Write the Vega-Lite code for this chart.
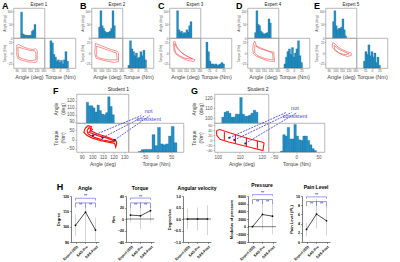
{
"$schema": "https://vega.github.io/schema/vega-lite/v6.json",
"background": "white",
"padding": {"left": 2, "right": 2, "top": 1, "bottom": 0},
"config": {
 "font": "Liberation Sans",
 "view": {"stroke": "#a6a6a6", "strokeWidth": 0.8},
 "axis": {"labelFontSize": 3, "titleFontSize": 3.2, "tickSize": 1, "tickWidth": 0.4, "tickColor": "#777", "labelPadding": 0.5, "titlePadding": 1, "grid": false, "domain": false, "labelColor": "#555", "titleColor": "#444", "titleFontWeight": "normal", "labelFlush": false, "labelOverlap": false, "labelBound": false},
 "title": {"fontSize": 5, "fontWeight": "normal", "color": "#222", "offset": 1}
},
"datasets": {
 "eh": [
  {"p":"E1","v":"a","x":92,"c":95},{"p":"E1","v":"a","x":95,"c":15},{"p":"E1","v":"a","x":98,"c":12},{"p":"E1","v":"a","x":101,"c":10},{"p":"E1","v":"a","x":104,"c":10},{"p":"E1","v":"a","x":107,"c":9},{"p":"E1","v":"a","x":110,"c":10},{"p":"E1","v":"a","x":113,"c":10},{"p":"E1","v":"a","x":116,"c":25},{"p":"E1","v":"a","x":119,"c":30},{"p":"E1","v":"a","x":122,"c":50},
  {"p":"E1","v":"t","x":-30,"c":100},{"p":"E1","v":"t","x":-25,"c":92},{"p":"E1","v":"t","x":-20,"c":50},{"p":"E1","v":"t","x":-15,"c":40},{"p":"E1","v":"t","x":-10,"c":25},{"p":"E1","v":"t","x":-5,"c":30},{"p":"E1","v":"t","x":0,"c":20},{"p":"E1","v":"t","x":5,"c":28},{"p":"E1","v":"t","x":10,"c":15},{"p":"E1","v":"t","x":15,"c":30},{"p":"E1","v":"t","x":20,"c":60},{"p":"E1","v":"t","x":25,"c":25},
  {"p":"E2","v":"a","x":92,"c":40},{"p":"E2","v":"a","x":95,"c":100},{"p":"E2","v":"a","x":98,"c":45},{"p":"E2","v":"a","x":101,"c":35},{"p":"E2","v":"a","x":104,"c":25},{"p":"E2","v":"a","x":107,"c":20},{"p":"E2","v":"a","x":110,"c":20},{"p":"E2","v":"a","x":113,"c":22},{"p":"E2","v":"a","x":116,"c":25},{"p":"E2","v":"a","x":119,"c":35},{"p":"E2","v":"a","x":122,"c":100},{"p":"E2","v":"a","x":125,"c":45},
  {"p":"E2","v":"t","x":-30,"c":10},{"p":"E2","v":"t","x":-25,"c":100},{"p":"E2","v":"t","x":-20,"c":70},{"p":"E2","v":"t","x":-15,"c":60},{"p":"E2","v":"t","x":-10,"c":45},{"p":"E2","v":"t","x":-5,"c":55},{"p":"E2","v":"t","x":0,"c":35},{"p":"E2","v":"t","x":5,"c":40},{"p":"E2","v":"t","x":10,"c":60},{"p":"E2","v":"t","x":15,"c":45},{"p":"E2","v":"t","x":20,"c":65},{"p":"E2","v":"t","x":25,"c":30},
  {"p":"E3","v":"a","x":92,"c":100},{"p":"E3","v":"a","x":95,"c":30},{"p":"E3","v":"a","x":98,"c":20},{"p":"E3","v":"a","x":101,"c":25},{"p":"E3","v":"a","x":104,"c":15},{"p":"E3","v":"a","x":107,"c":20},{"p":"E3","v":"a","x":110,"c":18},{"p":"E3","v":"a","x":113,"c":30},{"p":"E3","v":"a","x":116,"c":22},{"p":"E3","v":"a","x":119,"c":45},{"p":"E3","v":"a","x":122,"c":60},
  {"p":"E3","v":"t","x":-30,"c":95},{"p":"E3","v":"t","x":-25,"c":60},{"p":"E3","v":"t","x":-20,"c":25},{"p":"E3","v":"t","x":-15,"c":15},{"p":"E3","v":"t","x":-10,"c":15},{"p":"E3","v":"t","x":-5,"c":12},{"p":"E3","v":"t","x":0,"c":15},{"p":"E3","v":"t","x":5,"c":10},{"p":"E3","v":"t","x":10,"c":12},{"p":"E3","v":"t","x":15,"c":15},{"p":"E3","v":"t","x":20,"c":20},{"p":"E3","v":"t","x":25,"c":15},
  {"p":"E4","v":"a","x":92,"c":20},{"p":"E4","v":"a","x":95,"c":100},{"p":"E4","v":"a","x":98,"c":50},{"p":"E4","v":"a","x":101,"c":45},{"p":"E4","v":"a","x":104,"c":25},{"p":"E4","v":"a","x":107,"c":20},{"p":"E4","v":"a","x":110,"c":15},{"p":"E4","v":"a","x":113,"c":15},{"p":"E4","v":"a","x":116,"c":18},{"p":"E4","v":"a","x":119,"c":20},{"p":"E4","v":"a","x":122,"c":70},{"p":"E4","v":"a","x":125,"c":55},
  {"p":"E4","v":"t","x":-30,"c":15},{"p":"E4","v":"t","x":-25,"c":40},{"p":"E4","v":"t","x":-20,"c":60},{"p":"E4","v":"t","x":-15,"c":70},{"p":"E4","v":"t","x":-10,"c":50},{"p":"E4","v":"t","x":-5,"c":75},{"p":"E4","v":"t","x":0,"c":40},{"p":"E4","v":"t","x":5,"c":55},{"p":"E4","v":"t","x":10,"c":70},{"p":"E4","v":"t","x":15,"c":100},{"p":"E4","v":"t","x":20,"c":45},{"p":"E4","v":"t","x":25,"c":20},
  {"p":"E5","v":"a","x":92,"c":60},{"p":"E5","v":"a","x":95,"c":100},{"p":"E5","v":"a","x":98,"c":45},{"p":"E5","v":"a","x":101,"c":30},{"p":"E5","v":"a","x":104,"c":35},{"p":"E5","v":"a","x":107,"c":35},{"p":"E5","v":"a","x":110,"c":40},{"p":"E5","v":"a","x":113,"c":70},{"p":"E5","v":"a","x":116,"c":30},{"p":"E5","v":"a","x":119,"c":8},
  {"p":"E5","v":"t","x":-25,"c":25},{"p":"E5","v":"t","x":-20,"c":60},{"p":"E5","v":"t","x":-15,"c":50},{"p":"E5","v":"t","x":-10,"c":85},{"p":"E5","v":"t","x":-5,"c":45},{"p":"E5","v":"t","x":0,"c":60},{"p":"E5","v":"t","x":5,"c":40},{"p":"E5","v":"t","x":10,"c":55},{"p":"E5","v":"t","x":15,"c":20},{"p":"E5","v":"t","x":20,"c":40},{"p":"E5","v":"t","x":25,"c":10}
 ],
 "sh": [
  {"p":"S1","v":"a","x":92,"c":118},{"p":"S1","v":"a","x":94.5,"c":113},{"p":"S1","v":"a","x":97,"c":113},{"p":"S1","v":"a","x":99.5,"c":110},{"p":"S1","v":"a","x":102,"c":104},{"p":"S1","v":"a","x":104.5,"c":114},{"p":"S1","v":"a","x":107,"c":106},{"p":"S1","v":"a","x":109.5,"c":101},{"p":"S1","v":"a","x":112,"c":100},{"p":"S1","v":"a","x":114.5,"c":103},{"p":"S1","v":"a","x":117,"c":126},{"p":"S1","v":"a","x":119.5,"c":112},{"p":"S1","v":"a","x":122,"c":100},
  {"p":"S1","v":"t","x":-65,"c":2},{"p":"S1","v":"t","x":-55,"c":8},{"p":"S1","v":"t","x":-45,"c":9},{"p":"S1","v":"t","x":-35,"c":9},{"p":"S1","v":"t","x":-25,"c":9},{"p":"S1","v":"t","x":-15,"c":60},{"p":"S1","v":"t","x":-5,"c":22},{"p":"S1","v":"t","x":5,"c":85},{"p":"S1","v":"t","x":15,"c":28},{"p":"S1","v":"t","x":25,"c":25},{"p":"S1","v":"t","x":35,"c":28},{"p":"S1","v":"t","x":45,"c":55},{"p":"S1","v":"t","x":55,"c":88},{"p":"S1","v":"t","x":65,"c":32},
  {"p":"S2","v":"a","x":100.5,"c":101},{"p":"S2","v":"a","x":101.75,"c":106},{"p":"S2","v":"a","x":103,"c":107},{"p":"S2","v":"a","x":104.25,"c":105},{"p":"S2","v":"a","x":105.5,"c":101},{"p":"S2","v":"a","x":106.75,"c":101},{"p":"S2","v":"a","x":108,"c":104},{"p":"S2","v":"a","x":109.25,"c":104},{"p":"S2","v":"a","x":110.5,"c":121},{"p":"S2","v":"a","x":111.75,"c":104},{"p":"S2","v":"a","x":113,"c":102},{"p":"S2","v":"a","x":114.25,"c":102},{"p":"S2","v":"a","x":115.5,"c":103},{"p":"S2","v":"a","x":116.75,"c":105},{"p":"S2","v":"a","x":118,"c":108},{"p":"S2","v":"a","x":119.25,"c":106},
  {"p":"S2","v":"t","x":-32.5,"c":3},{"p":"S2","v":"t","x":-27.5,"c":60},{"p":"S2","v":"t","x":-22.5,"c":55},{"p":"S2","v":"t","x":-17.5,"c":85},{"p":"S2","v":"t","x":-12.5,"c":45},{"p":"S2","v":"t","x":-7.5,"c":45},{"p":"S2","v":"t","x":-2.5,"c":95},{"p":"S2","v":"t","x":2.5,"c":55},{"p":"S2","v":"t","x":7.5,"c":42},{"p":"S2","v":"t","x":12.5,"c":40},{"p":"S2","v":"t","x":17.5,"c":55},{"p":"S2","v":"t","x":22.5,"c":55},{"p":"S2","v":"t","x":27.5,"c":40},{"p":"S2","v":"t","x":32.5,"c":25},{"p":"S2","v":"t","x":37.5,"c":12},{"p":"S2","v":"t","x":42.5,"c":5}
 ],
 "lp": [
  {"p":"E1","k":1,"i":0,"a":90,"t":18},{"p":"E1","k":1,"i":1,"a":93,"t":20},{"p":"E1","k":1,"i":2,"a":100,"t":14},{"p":"E1","k":1,"i":3,"a":108,"t":10},{"p":"E1","k":1,"i":4,"a":114,"t":8},{"p":"E1","k":1,"i":5,"a":118,"t":10},{"p":"E1","k":1,"i":6,"a":121,"t":6},{"p":"E1","k":1,"i":7,"a":121,"t":-18},{"p":"E1","k":1,"i":8,"a":119,"t":-22},{"p":"E1","k":1,"i":9,"a":108,"t":-21},{"p":"E1","k":1,"i":10,"a":98,"t":-17},{"p":"E1","k":1,"i":11,"a":92,"t":-13},{"p":"E1","k":1,"i":12,"a":90,"t":-5},{"p":"E1","k":1,"i":13,"a":90,"t":18},
  {"p":"E1","k":2,"i":0,"a":92,"t":14},{"p":"E1","k":2,"i":1,"a":100,"t":10},{"p":"E1","k":2,"i":2,"a":110,"t":6},{"p":"E1","k":2,"i":3,"a":117,"t":5},{"p":"E1","k":2,"i":4,"a":119,"t":0},{"p":"E1","k":2,"i":5,"a":119,"t":-16},{"p":"E1","k":2,"i":6,"a":110,"t":-18},{"p":"E1","k":2,"i":7,"a":100,"t":-14},{"p":"E1","k":2,"i":8,"a":93,"t":-10},{"p":"E1","k":2,"i":9,"a":92,"t":0},{"p":"E1","k":2,"i":10,"a":92,"t":14},
  {"p":"E2","k":1,"i":0,"a":91,"t":22},{"p":"E2","k":1,"i":1,"a":95,"t":20},{"p":"E2","k":1,"i":2,"a":105,"t":14},{"p":"E2","k":1,"i":3,"a":115,"t":8},{"p":"E2","k":1,"i":4,"a":124,"t":4},{"p":"E2","k":1,"i":5,"a":126,"t":0},{"p":"E2","k":1,"i":6,"a":126,"t":-20},{"p":"E2","k":1,"i":7,"a":120,"t":-22},{"p":"E2","k":1,"i":8,"a":108,"t":-19},{"p":"E2","k":1,"i":9,"a":98,"t":-15},{"p":"E2","k":1,"i":10,"a":92,"t":-12},{"p":"E2","k":1,"i":11,"a":90,"t":0},{"p":"E2","k":1,"i":12,"a":91,"t":22},
  {"p":"E2","k":2,"i":0,"a":93,"t":16},{"p":"E2","k":2,"i":1,"a":104,"t":10},{"p":"E2","k":2,"i":2,"a":115,"t":4},{"p":"E2","k":2,"i":3,"a":123,"t":0},{"p":"E2","k":2,"i":4,"a":124,"t":-16},{"p":"E2","k":2,"i":5,"a":110,"t":-16},{"p":"E2","k":2,"i":6,"a":98,"t":-12},{"p":"E2","k":2,"i":7,"a":93,"t":-8},{"p":"E2","k":2,"i":8,"a":93,"t":16},
  {"p":"E3","k":1,"i":0,"a":91,"t":26},{"p":"E3","k":1,"i":1,"a":93,"t":28},{"p":"E3","k":1,"i":2,"a":96,"t":15},{"p":"E3","k":1,"i":3,"a":102,"t":3},{"p":"E3","k":1,"i":4,"a":110,"t":-6},{"p":"E3","k":1,"i":5,"a":118,"t":-12},{"p":"E3","k":1,"i":6,"a":124,"t":-16},{"p":"E3","k":1,"i":7,"a":122,"t":-20},{"p":"E3","k":1,"i":8,"a":112,"t":-17},{"p":"E3","k":1,"i":9,"a":102,"t":-10},{"p":"E3","k":1,"i":10,"a":95,"t":-3},{"p":"E3","k":1,"i":11,"a":92,"t":5},{"p":"E3","k":1,"i":12,"a":91,"t":26},
  {"p":"E3","k":2,"i":0,"a":93,"t":22},{"p":"E3","k":2,"i":1,"a":97,"t":10},{"p":"E3","k":2,"i":2,"a":104,"t":0},{"p":"E3","k":2,"i":3,"a":112,"t":-8},{"p":"E3","k":2,"i":4,"a":120,"t":-14},{"p":"E3","k":2,"i":5,"a":110,"t":-13},{"p":"E3","k":2,"i":6,"a":101,"t":-7},{"p":"E3","k":2,"i":7,"a":95,"t":0},{"p":"E3","k":2,"i":8,"a":93,"t":10},{"p":"E3","k":2,"i":9,"a":93,"t":22},
  {"p":"E4","k":1,"i":0,"a":94,"t":22},{"p":"E4","k":1,"i":1,"a":96,"t":28},{"p":"E4","k":1,"i":2,"a":99,"t":16},{"p":"E4","k":1,"i":3,"a":108,"t":10},{"p":"E4","k":1,"i":4,"a":118,"t":4},{"p":"E4","k":1,"i":5,"a":125,"t":2},{"p":"E4","k":1,"i":6,"a":126,"t":-20},{"p":"E4","k":1,"i":7,"a":118,"t":-19},{"p":"E4","k":1,"i":8,"a":108,"t":-14},{"p":"E4","k":1,"i":9,"a":99,"t":-8},{"p":"E4","k":1,"i":10,"a":94,"t":-2},{"p":"E4","k":1,"i":11,"a":93,"t":10},{"p":"E4","k":1,"i":12,"a":94,"t":22},
  {"p":"E4","k":2,"i":0,"a":96,"t":18},{"p":"E4","k":2,"i":1,"a":104,"t":10},{"p":"E4","k":2,"i":2,"a":115,"t":5},{"p":"E4","k":2,"i":3,"a":123,"t":0},{"p":"E4","k":2,"i":4,"a":124,"t":-16},{"p":"E4","k":2,"i":5,"a":112,"t":-13},{"p":"E4","k":2,"i":6,"a":101,"t":-7},{"p":"E4","k":2,"i":7,"a":96,"t":0},{"p":"E4","k":2,"i":8,"a":96,"t":18},
  {"p":"E5","k":1,"i":0,"a":96,"t":24},{"p":"E5","k":1,"i":1,"a":99,"t":22},{"p":"E5","k":1,"i":2,"a":104,"t":14},{"p":"E5","k":1,"i":3,"a":110,"t":8},{"p":"E5","k":1,"i":4,"a":118,"t":3},{"p":"E5","k":1,"i":5,"a":124,"t":0},{"p":"E5","k":1,"i":6,"a":124,"t":-6},{"p":"E5","k":1,"i":7,"a":118,"t":-8},{"p":"E5","k":1,"i":8,"a":110,"t":-4},{"p":"E5","k":1,"i":9,"a":103,"t":2},{"p":"E5","k":1,"i":10,"a":98,"t":8},{"p":"E5","k":1,"i":11,"a":95,"t":14},{"p":"E5","k":1,"i":12,"a":96,"t":24},
  {"p":"E5","k":2,"i":0,"a":98,"t":18},{"p":"E5","k":2,"i":1,"a":104,"t":10},{"p":"E5","k":2,"i":2,"a":112,"t":4},{"p":"E5","k":2,"i":3,"a":121,"t":-2},{"p":"E5","k":2,"i":4,"a":115,"t":-4},{"p":"E5","k":2,"i":5,"a":106,"t":0},{"p":"E5","k":2,"i":6,"a":99,"t":8},{"p":"E5","k":2,"i":7,"a":98,"t":18},
  {"p":"S1","k":1,"i":0,"a":93,"t":60},{"p":"S1","k":1,"i":1,"a":96,"t":75},{"p":"S1","k":1,"i":2,"a":99,"t":70},{"p":"S1","k":1,"i":3,"a":98,"t":50},{"p":"S1","k":1,"i":4,"a":104,"t":32},{"p":"S1","k":1,"i":5,"a":112,"t":18},{"p":"S1","k":1,"i":6,"a":118,"t":5},{"p":"S1","k":1,"i":7,"a":122,"t":-3},{"p":"S1","k":1,"i":8,"a":123,"t":-20},{"p":"S1","k":1,"i":9,"a":122,"t":-40},{"p":"S1","k":1,"i":10,"a":121,"t":-20},{"p":"S1","k":1,"i":11,"a":116,"t":-15},{"p":"S1","k":1,"i":12,"a":108,"t":-5},{"p":"S1","k":1,"i":13,"a":100,"t":8},{"p":"S1","k":1,"i":14,"a":95,"t":22},{"p":"S1","k":1,"i":15,"a":92,"t":40},{"p":"S1","k":1,"i":16,"a":93,"t":60},
  {"p":"S1","k":2,"i":0,"a":95,"t":50},{"p":"S1","k":2,"i":1,"a":97,"t":65},{"p":"S1","k":2,"i":2,"a":100,"t":55},{"p":"S1","k":2,"i":3,"a":97,"t":40},{"p":"S1","k":2,"i":4,"a":105,"t":22},{"p":"S1","k":2,"i":5,"a":114,"t":8},{"p":"S1","k":2,"i":6,"a":121,"t":-8},{"p":"S1","k":2,"i":7,"a":119,"t":-12},{"p":"S1","k":2,"i":8,"a":110,"t":-2},{"p":"S1","k":2,"i":9,"a":102,"t":12},{"p":"S1","k":2,"i":10,"a":96,"t":30},{"p":"S1","k":2,"i":11,"a":95,"t":50},
  {"p":"S2","k":1,"i":0,"a":99.5,"t":38},{"p":"S2","k":1,"i":1,"a":101,"t":42},{"p":"S2","k":1,"i":2,"a":105,"t":30},{"p":"S2","k":1,"i":3,"a":110,"t":16},{"p":"S2","k":1,"i":4,"a":115,"t":3},{"p":"S2","k":1,"i":5,"a":120,"t":-8},{"p":"S2","k":1,"i":6,"a":121,"t":-12},{"p":"S2","k":1,"i":7,"a":120.5,"t":-42},{"p":"S2","k":1,"i":8,"a":115,"t":-30},{"p":"S2","k":1,"i":9,"a":110,"t":-19},{"p":"S2","k":1,"i":10,"a":105,"t":-8},{"p":"S2","k":1,"i":11,"a":101,"t":3},{"p":"S2","k":1,"i":12,"a":99.5,"t":20},{"p":"S2","k":1,"i":13,"a":99.5,"t":38},
  {"p":"S2","k":2,"i":0,"a":103,"t":32},{"p":"S2","k":2,"i":1,"a":103,"t":-2},
  {"p":"S2","k":3,"i":0,"a":108,"t":22},{"p":"S2","k":3,"i":1,"a":108,"t":-14},
  {"p":"S2","k":4,"i":0,"a":113,"t":9},{"p":"S2","k":4,"i":1,"a":113,"t":-26},
  {"p":"S2","k":5,"i":0,"a":118,"t":-3},{"p":"S2","k":5,"i":1,"a":118,"t":-35}
 ],
 "nc": [
  {"p":"S1","a":100.5,"t":22,"a2":146,"t2":130},{"p":"S1","a":109.5,"t":10,"a2":150,"t2":130},{"p":"S1","a":121,"t":-2,"a2":154,"t2":130},
  {"p":"S2","a":105.2,"t":9,"a2":131,"t2":110},{"p":"S2","a":107.5,"t":0,"a2":133.5,"t2":110},{"p":"S2","a":112.5,"t":-14,"a2":136,"t2":110}
 ],
 "ncl": [
  {"p":"S1","a":153,"t":138,"s":"not consistent"},
  {"p":"S2","a":135,"t":116,"s":"not consistent"}
 ],
 "hd": [
  {"p":"Angle","k":"e","g":0,"g2":0,"y":94,"y2":108},{"p":"Angle","k":"e","g":1,"g2":1,"y":90.5,"y2":114},{"p":"Angle","k":"e","g":2,"g2":2,"y":90.5,"y2":106},
  {"p":"Angle","k":"m","g":0,"y":100.9},{"p":"Angle","k":"m","g":1,"y":109.5},{"p":"Angle","k":"m","g":2,"y":97.8},
  {"p":"Angle","k":"b","g":0,"g2":2,"y":118.5,"y2":118.5},{"p":"Angle","k":"b","g":0,"g2":0,"y":118.5,"y2":117},{"p":"Angle","k":"b","g":2,"g2":2,"y":118.5,"y2":117},{"p":"Angle","k":"b","g":0,"g2":2,"y":115.5,"y2":115.5},{"p":"Angle","k":"b","g":0,"g2":0,"y":115.5,"y2":112.5},{"p":"Angle","k":"b","g":1,"g2":1,"y":115.5,"y2":112.5},{"p":"Angle","k":"b","g":2,"g2":2,"y":115.5,"y2":112.5},
  {"p":"Angle","k":"s","g":1,"y":119.8},{"p":"Angle","k":"s","g":0.5,"y":114},{"p":"Angle","k":"s","g":1.5,"y":114},
  {"p":"Torque","k":"e","g":0,"g2":0,"y":-6,"y2":19},{"p":"Torque","k":"e","g":1,"g2":1,"y":-18,"y2":30},{"p":"Torque","k":"e","g":2,"g2":2,"y":-6,"y2":22},
  {"p":"Torque","k":"z","g":-0.45,"g2":2.35,"y":0,"y2":0},
  {"p":"Torque","k":"m","g":0,"y":6.8},{"p":"Torque","k":"m","g":1,"y":5.6},{"p":"Torque","k":"m","g":2,"y":14.5},
  {"p":"Torque","k":"b","g":0,"g2":2,"y":36.4,"y2":36.4},{"p":"Torque","k":"b","g":0,"g2":0,"y":36.4,"y2":33.5},{"p":"Torque","k":"b","g":2,"g2":2,"y":36.4,"y2":33.5},{"p":"Torque","k":"b","g":0,"g2":2,"y":28,"y2":28},{"p":"Torque","k":"b","g":0,"g2":0,"y":28,"y2":19},{"p":"Torque","k":"b","g":1,"g2":1,"y":28,"y2":19},{"p":"Torque","k":"b","g":2,"g2":2,"y":28,"y2":19},
  {"p":"Torque","k":"s","g":1,"y":38.5},{"p":"Torque","k":"s","g":0.5,"y":24},{"p":"Torque","k":"s","g":1.5,"y":24},
  {"p":"AV","k":"e","g":0,"g2":0,"y":-0.45,"y2":0.45},{"p":"AV","k":"e","g":1,"g2":1,"y":-0.5,"y2":0.5},{"p":"AV","k":"e","g":2,"g2":2,"y":-0.7,"y2":0.6},
  {"p":"AV","k":"z","g":-0.45,"g2":2.35,"y":0,"y2":0},
  {"p":"AV","k":"m","g":0,"y":0},{"p":"AV","k":"m","g":1,"y":0},{"p":"AV","k":"m","g":2,"y":0},
  {"p":"Pressure","k":"e","g":1,"g2":1,"y":-900,"y2":6500},{"p":"Pressure","k":"e","g":2,"g2":2,"y":-2000,"y2":6000},
  {"p":"Pressure","k":"z","g":-0.45,"g2":2.35,"y":0,"y2":0},
  {"p":"Pressure","k":"m","g":0,"y":0},{"p":"Pressure","k":"m","g":1,"y":3180},{"p":"Pressure","k":"m","g":2,"y":2730},
  {"p":"Pressure","k":"b","g":0,"g2":2,"y":8360,"y2":8360},{"p":"Pressure","k":"b","g":0,"g2":0,"y":8360,"y2":8000},{"p":"Pressure","k":"b","g":2,"g2":2,"y":8360,"y2":8000},{"p":"Pressure","k":"b","g":0,"g2":2,"y":7090,"y2":7090},{"p":"Pressure","k":"b","g":0,"g2":0,"y":7090,"y2":5900},{"p":"Pressure","k":"b","g":1,"g2":1,"y":7090,"y2":5900},{"p":"Pressure","k":"b","g":2,"g2":2,"y":7090,"y2":5900},
  {"p":"Pressure","k":"s","g":1,"y":8800},{"p":"Pressure","k":"s","g":0.5,"y":6500},{"p":"Pressure","k":"s","g":1.5,"y":6500},
  {"p":"Pain","k":"e","g":0,"g2":0,"y":1.2,"y2":4.24},{"p":"Pain","k":"e","g":1,"g2":1,"y":2.95,"y2":9.4},{"p":"Pain","k":"e","g":2,"g2":2,"y":1.44,"y2":7.9},
  {"p":"Pain","k":"m","g":0,"y":2.73},{"p":"Pain","k":"m","g":1,"y":6.06},{"p":"Pain","k":"m","g":2,"y":4.62},
  {"p":"Pain","k":"b","g":0,"g2":2,"y":9.8,"y2":9.8},{"p":"Pain","k":"b","g":0,"g2":0,"y":9.8,"y2":9.4},{"p":"Pain","k":"b","g":2,"g2":2,"y":9.8,"y2":9.4},{"p":"Pain","k":"b","g":0,"g2":2,"y":8.8,"y2":8.8},{"p":"Pain","k":"b","g":0,"g2":0,"y":8.8,"y2":7.8},{"p":"Pain","k":"b","g":1,"g2":1,"y":8.8,"y2":7.8},{"p":"Pain","k":"b","g":2,"g2":2,"y":8.8,"y2":7.8},
  {"p":"Pain","k":"s","g":1,"y":10.15},{"p":"Pain","k":"s","g":0.5,"y":8.3},{"p":"Pain","k":"s","g":1.5,"y":8.3}
 ]
},
"center": true,
"spacing": 15,
"vconcat": [
 {"center": true, "spacing": 6, "vconcat": [
 {"hconcat": [
  {"title": {"text": "A", "anchor": "start", "fontSize": 9, "fontWeight": "bold", "color": "black", "offset": -9},
   "vconcat": [{"title": {"text": "Expert 1", "anchor": "middle", "fontSize": 4.5, "offset": 1.5}, "columns": 2, "spacing": 0, "bounds": "flush",
    "concat": [
     {"width": 31, "height": 30, "data": {"name": "eh"}, "transform": [{"filter": "datum.p=='E1' && datum.v=='a'"}], "mark": {"type": "bar", "orient": "vertical", "size": 2, "color": "#2390c8", "stroke": "#16597f", "strokeWidth": 0.25},
      "encoding": {"x": {"field": "x", "type": "quantitative", "scale": {"domain": [85, 132]}, "axis": null}, "y": {"field": "c", "type": "quantitative", "scale": {"domain": [0, 110]}, "axis": {"title": "Angle (deg)", "values": [0, 50, 100], "minExtent": 6, "maxExtent": 6}}}},
     {"width": 31, "height": 30, "data": {"values": [{}]}, "mark": {"type": "point", "opacity": 0}, "encoding": {}},
     {"width": 31, "height": 30, "data": {"name": "lp"}, "transform": [{"filter": "datum.p=='E1'"}], "mark": {"type": "line", "color": "#e4514a", "strokeWidth": 0.6},
      "encoding": {"x": {"field": "a", "type": "quantitative", "scale": {"domain": [85, 132]}, "axis": {"title": "Angle (deg)", "values": [90, 100, 110, 120, 130], "titleFontSize": 5.5, "titlePadding": 2}}, "y": {"field": "t", "type": "quantitative", "scale": {"domain": [-35, 35]}, "axis": {"title": "Torque (Nm)", "values": [-25, 0, 25], "minExtent": 6, "maxExtent": 6}}, "detail": {"field": "k", "type": "nominal"}, "order": {"field": "i", "type": "quantitative"}}},
     {"width": 31, "height": 30, "data": {"name": "eh"}, "transform": [{"filter": "datum.p=='E1' && datum.v=='t'"}], "mark": {"type": "bar", "orient": "vertical", "size": 2.1, "color": "#2390c8", "stroke": "#16597f", "strokeWidth": 0.25},
      "encoding": {"x": {"field": "x", "type": "quantitative", "scale": {"domain": [-35, 35]}, "axis": {"title": "Torque (Nm)", "values": [-25, 0, 25], "titleFontSize": 5.5, "titlePadding": 2}}, "y": {"field": "c", "type": "quantitative", "scale": {"domain": [0, 110]}, "axis": null}}}
    ]}]},
  {"title": {"text": "B", "anchor": "start", "fontSize": 9, "fontWeight": "bold", "color": "black", "offset": -9},
   "vconcat": [{"title": {"text": "Expert 2", "anchor": "middle", "fontSize": 4.5, "offset": 1.5}, "columns": 2, "spacing": 0, "bounds": "flush",
    "concat": [
     {"width": 31, "height": 30, "data": {"name": "eh"}, "transform": [{"filter": "datum.p=='E2' && datum.v=='a'"}], "mark": {"type": "bar", "orient": "vertical", "size": 2, "color": "#2390c8", "stroke": "#16597f", "strokeWidth": 0.25},
      "encoding": {"x": {"field": "x", "type": "quantitative", "scale": {"domain": [85, 132]}, "axis": null}, "y": {"field": "c", "type": "quantitative", "scale": {"domain": [0, 110]}, "axis": {"title": "Angle (deg)", "values": [0, 50, 100], "minExtent": 6, "maxExtent": 6}}}},
     {"width": 31, "height": 30, "data": {"values": [{}]}, "mark": {"type": "point", "opacity": 0}, "encoding": {}},
     {"width": 31, "height": 30, "data": {"name": "lp"}, "transform": [{"filter": "datum.p=='E2'"}], "mark": {"type": "line", "color": "#e4514a", "strokeWidth": 0.6},
      "encoding": {"x": {"field": "a", "type": "quantitative", "scale": {"domain": [85, 132]}, "axis": {"title": "Angle (deg)", "values": [90, 100, 110, 120, 130], "titleFontSize": 5.5, "titlePadding": 2}}, "y": {"field": "t", "type": "quantitative", "scale": {"domain": [-35, 35]}, "axis": {"title": "Torque (Nm)", "values": [-25, 0, 25], "minExtent": 6, "maxExtent": 6}}, "detail": {"field": "k", "type": "nominal"}, "order": {"field": "i", "type": "quantitative"}}},
     {"width": 31, "height": 30, "data": {"name": "eh"}, "transform": [{"filter": "datum.p=='E2' && datum.v=='t'"}], "mark": {"type": "bar", "orient": "vertical", "size": 2.1, "color": "#2390c8", "stroke": "#16597f", "strokeWidth": 0.25},
      "encoding": {"x": {"field": "x", "type": "quantitative", "scale": {"domain": [-35, 35]}, "axis": {"title": "Torque (Nm)", "values": [-25, 0, 25], "titleFontSize": 5.5, "titlePadding": 2}}, "y": {"field": "c", "type": "quantitative", "scale": {"domain": [0, 110]}, "axis": null}}}
    ]}]},
  {"title": {"text": "C", "anchor": "start", "fontSize": 9, "fontWeight": "bold", "color": "black", "offset": -9},
   "vconcat": [{"title": {"text": "Expert 3", "anchor": "middle", "fontSize": 4.5, "offset": 1.5}, "columns": 2, "spacing": 0, "bounds": "flush",
    "concat": [
     {"width": 31, "height": 30, "data": {"name": "eh"}, "transform": [{"filter": "datum.p=='E3' && datum.v=='a'"}], "mark": {"type": "bar", "orient": "vertical", "size": 2, "color": "#2390c8", "stroke": "#16597f", "strokeWidth": 0.25},
      "encoding": {"x": {"field": "x", "type": "quantitative", "scale": {"domain": [85, 132]}, "axis": null}, "y": {"field": "c", "type": "quantitative", "scale": {"domain": [0, 110]}, "axis": {"title": "Angle (deg)", "values": [0, 50, 100], "minExtent": 6, "maxExtent": 6}}}},
     {"width": 31, "height": 30, "data": {"values": [{}]}, "mark": {"type": "point", "opacity": 0}, "encoding": {}},
     {"width": 31, "height": 30, "data": {"name": "lp"}, "transform": [{"filter": "datum.p=='E3'"}], "mark": {"type": "line", "color": "#e4514a", "strokeWidth": 0.6},
      "encoding": {"x": {"field": "a", "type": "quantitative", "scale": {"domain": [85, 132]}, "axis": {"title": "Angle (deg)", "values": [90, 100, 110, 120, 130], "titleFontSize": 5.5, "titlePadding": 2}}, "y": {"field": "t", "type": "quantitative", "scale": {"domain": [-35, 35]}, "axis": {"title": "Torque (Nm)", "values": [-25, 0, 25], "minExtent": 6, "maxExtent": 6}}, "detail": {"field": "k", "type": "nominal"}, "order": {"field": "i", "type": "quantitative"}}},
     {"width": 31, "height": 30, "data": {"name": "eh"}, "transform": [{"filter": "datum.p=='E3' && datum.v=='t'"}], "mark": {"type": "bar", "orient": "vertical", "size": 2.1, "color": "#2390c8", "stroke": "#16597f", "strokeWidth": 0.25},
      "encoding": {"x": {"field": "x", "type": "quantitative", "scale": {"domain": [-35, 35]}, "axis": {"title": "Torque (Nm)", "values": [-25, 0, 25], "titleFontSize": 5.5, "titlePadding": 2}}, "y": {"field": "c", "type": "quantitative", "scale": {"domain": [0, 110]}, "axis": null}}}
    ]}]},
  {"title": {"text": "D", "anchor": "start", "fontSize": 9, "fontWeight": "bold", "color": "black", "offset": -9},
   "vconcat": [{"title": {"text": "Expert 4", "anchor": "middle", "fontSize": 4.5, "offset": 1.5}, "columns": 2, "spacing": 0, "bounds": "flush",
    "concat": [
     {"width": 31, "height": 30, "data": {"name": "eh"}, "transform": [{"filter": "datum.p=='E4' && datum.v=='a'"}], "mark": {"type": "bar", "orient": "vertical", "size": 2, "color": "#2390c8", "stroke": "#16597f", "strokeWidth": 0.25},
      "encoding": {"x": {"field": "x", "type": "quantitative", "scale": {"domain": [85, 132]}, "axis": null}, "y": {"field": "c", "type": "quantitative", "scale": {"domain": [0, 110]}, "axis": {"title": "Angle (deg)", "values": [0, 50, 100], "minExtent": 6, "maxExtent": 6}}}},
     {"width": 31, "height": 30, "data": {"values": [{}]}, "mark": {"type": "point", "opacity": 0}, "encoding": {}},
     {"width": 31, "height": 30, "data": {"name": "lp"}, "transform": [{"filter": "datum.p=='E4'"}], "mark": {"type": "line", "color": "#e4514a", "strokeWidth": 0.6},
      "encoding": {"x": {"field": "a", "type": "quantitative", "scale": {"domain": [85, 132]}, "axis": {"title": "Angle (deg)", "values": [90, 100, 110, 120, 130], "titleFontSize": 5.5, "titlePadding": 2}}, "y": {"field": "t", "type": "quantitative", "scale": {"domain": [-35, 35]}, "axis": {"title": "Torque (Nm)", "values": [-25, 0, 25], "minExtent": 6, "maxExtent": 6}}, "detail": {"field": "k", "type": "nominal"}, "order": {"field": "i", "type": "quantitative"}}},
     {"width": 31, "height": 30, "data": {"name": "eh"}, "transform": [{"filter": "datum.p=='E4' && datum.v=='t'"}], "mark": {"type": "bar", "orient": "vertical", "size": 2.1, "color": "#2390c8", "stroke": "#16597f", "strokeWidth": 0.25},
      "encoding": {"x": {"field": "x", "type": "quantitative", "scale": {"domain": [-35, 35]}, "axis": {"title": "Torque (Nm)", "values": [-25, 0, 25], "titleFontSize": 5.5, "titlePadding": 2}}, "y": {"field": "c", "type": "quantitative", "scale": {"domain": [0, 110]}, "axis": null}}}
    ]}]},
  {"title": {"text": "E", "anchor": "start", "fontSize": 9, "fontWeight": "bold", "color": "black", "offset": -9},
   "vconcat": [{"title": {"text": "Expert 5", "anchor": "middle", "fontSize": 4.5, "offset": 1.5}, "columns": 2, "spacing": 0, "bounds": "flush",
    "concat": [
     {"width": 31, "height": 30, "data": {"name": "eh"}, "transform": [{"filter": "datum.p=='E5' && datum.v=='a'"}], "mark": {"type": "bar", "orient": "vertical", "size": 2, "color": "#2390c8", "stroke": "#16597f", "strokeWidth": 0.25},
      "encoding": {"x": {"field": "x", "type": "quantitative", "scale": {"domain": [85, 132]}, "axis": null}, "y": {"field": "c", "type": "quantitative", "scale": {"domain": [0, 110]}, "axis": {"title": "Angle (deg)", "values": [0, 50, 100], "minExtent": 6, "maxExtent": 6}}}},
     {"width": 31, "height": 30, "data": {"values": [{}]}, "mark": {"type": "point", "opacity": 0}, "encoding": {}},
     {"width": 31, "height": 30, "data": {"name": "lp"}, "transform": [{"filter": "datum.p=='E5'"}], "mark": {"type": "line", "color": "#e4514a", "strokeWidth": 0.6},
      "encoding": {"x": {"field": "a", "type": "quantitative", "scale": {"domain": [85, 132]}, "axis": {"title": "Angle (deg)", "values": [90, 100, 110, 120, 130], "titleFontSize": 5.5, "titlePadding": 2}}, "y": {"field": "t", "type": "quantitative", "scale": {"domain": [-35, 35]}, "axis": {"title": "Torque (Nm)", "values": [-25, 0, 25], "minExtent": 6, "maxExtent": 6}}, "detail": {"field": "k", "type": "nominal"}, "order": {"field": "i", "type": "quantitative"}}},
     {"width": 31, "height": 30, "data": {"name": "eh"}, "transform": [{"filter": "datum.p=='E5' && datum.v=='t'"}], "mark": {"type": "bar", "orient": "vertical", "size": 2.1, "color": "#2390c8", "stroke": "#16597f", "strokeWidth": 0.25},
      "encoding": {"x": {"field": "x", "type": "quantitative", "scale": {"domain": [-35, 35]}, "axis": {"title": "Torque (Nm)", "values": [-25, 0, 25], "titleFontSize": 5.5, "titlePadding": 2}}, "y": {"field": "c", "type": "quantitative", "scale": {"domain": [0, 110]}, "axis": null}}}
    ]}]}
 ], "spacing": 3},
 {"hconcat": [
  {"title": {"text": "F", "anchor": "start", "fontSize": 9, "fontWeight": "bold", "color": "black", "offset": -9},
   "vconcat": [{"title": {"text": "Student 1", "anchor": "middle", "fontSize": 5, "offset": 1.5}, "columns": 2, "spacing": 0, "bounds": "flush",
    "concat": [
     {"width": 52, "height": 29, "data": {"name": "sh"}, "transform": [{"filter": "datum.p=='S1' && datum.v=='a'"}], "mark": {"type": "bar", "orient": "vertical", "size": 2.4, "color": "#2390c8", "stroke": "#16597f", "strokeWidth": 0.25},
      "encoding": {"x": {"field": "x", "type": "quantitative", "scale": {"domain": [85, 134]}, "axis": null}, "y": {"field": "c", "type": "quantitative", "scale": {"domain": [88, 130]}, "axis": {"title": ["Angle", "(deg)"], "values": [90, 100, 110, 120], "labelFontSize": 4.5, "titleFontSize": 5, "tickSize": 1.5, "labelPadding": 1, "titlePadding": 2, "minExtent": 9, "maxExtent": 9, "labelOverlap": false}}, "y2": {"datum": 88}}},
     {"width": 55, "height": 29, "data": {"values": [{}]}, "mark": {"type": "point", "opacity": 0}, "encoding": {}},
     {"width": 52, "height": 29,
      "encoding": {"x": {"field": "a", "type": "quantitative", "scale": {"domain": [85, 134]}, "axis": {"title": "Angle (deg)", "values": [90, 100, 110, 120, 130], "labelFontSize": 4.5, "titleFontSize": 5, "tickSize": 1.5, "labelPadding": 1, "titlePadding": 2, "labelOverlap": false}}, "y": {"field": "t", "type": "quantitative", "scale": {"domain": [-67, 90]}, "axis": {"title": ["Torque", "(Nm)"], "values": [-50, 0, 50], "labelFontSize": 4.5, "titleFontSize": 5, "tickSize": 1.5, "labelPadding": 1, "titlePadding": 2, "minExtent": 9, "maxExtent": 9, "labelOverlap": false}}},
      "layer": [
      {"data": {"name": "lp"}, "transform": [{"filter": "datum.p=='S1'"}], "mark": {"type": "line", "color": "#ff1414", "strokeWidth": 1.2},
       "encoding": {"detail": {"field": "k", "type": "nominal"}, "order": {"field": "i", "type": "quantitative"}}},
      {"data": {"name": "nc"}, "transform": [{"filter": "datum.p=='S1'"}], "mark": {"type": "rule", "color": "#3535d0", "strokeWidth": 0.8, "strokeDash": [2, 1]},
       "encoding": {"x2": {"field": "a2"}, "y2": {"field": "t2"}}},
      {"data": {"name": "nc"}, "transform": [{"filter": "datum.p=='S1'"}], "mark": {"type": "point", "filled": true, "color": "#1c1ca8", "size": 5, "opacity": 1}},
      {"data": {"name": "ncl"}, "transform": [{"filter": "datum.p=='S1'"}], "mark": {"type": "text", "color": "#4a4ad6", "fontSize": 5.5, "lineBreak": " ", "baseline": "bottom"},
       "encoding": {"text": {"field": "s"}}}
     ]},
     {"width": 55, "height": 29, "data": {"name": "sh"}, "transform": [{"filter": "datum.p=='S1' && datum.v=='t'"}], "mark": {"type": "bar", "orient": "vertical", "size": 3, "color": "#2390c8", "stroke": "#16597f", "strokeWidth": 0.25},
      "encoding": {"x": {"field": "x", "type": "quantitative", "scale": {"domain": [-88, 76]}, "axis": {"title": "Torque (Nm)", "values": [-50, 0, 50], "labelFontSize": 4.5, "titleFontSize": 5, "tickSize": 1.5, "labelPadding": 1, "titlePadding": 2, "labelOverlap": false}}, "y": {"field": "c", "type": "quantitative", "scale": {"domain": [0, 100]}, "axis": null}}}
    ]}]},
  {"title": {"text": "G", "anchor": "start", "fontSize": 9, "fontWeight": "bold", "color": "black", "offset": -9},
   "vconcat": [{"title": {"text": "Student 2", "anchor": "middle", "fontSize": 5, "offset": 1.5}, "columns": 2, "spacing": 0, "bounds": "flush",
    "concat": [
     {"width": 54, "height": 29, "data": {"name": "sh"}, "transform": [{"filter": "datum.p=='S2' && datum.v=='a'"}], "mark": {"type": "bar", "orient": "vertical", "size": 2.6, "color": "#2390c8", "stroke": "#16597f", "strokeWidth": 0.25},
      "encoding": {"x": {"field": "x", "type": "quantitative", "scale": {"domain": [98.5, 123]}, "axis": null}, "y": {"field": "c", "type": "quantitative", "scale": {"domain": [95, 124.5]}, "axis": {"title": ["Angle", "(deg)"], "values": [100, 110, 120], "labelFontSize": 4.5, "titleFontSize": 5, "tickSize": 1.5, "labelPadding": 1, "titlePadding": 2, "minExtent": 9, "maxExtent": 9, "labelOverlap": false}}, "y2": {"datum": 95}}},
     {"width": 56, "height": 29, "data": {"values": [{}]}, "mark": {"type": "point", "opacity": 0}, "encoding": {}},
     {"width": 54, "height": 29,
      "encoding": {"x": {"field": "a", "type": "quantitative", "scale": {"domain": [98.5, 123]}, "axis": {"title": "Angle (deg)", "values": [100, 110, 120], "labelFontSize": 4.5, "titleFontSize": 5, "tickSize": 1.5, "labelPadding": 1, "titlePadding": 2, "labelOverlap": false}}, "y": {"field": "t", "type": "quantitative", "scale": {"domain": [-48, 68]}, "axis": {"title": ["Torque", "(Nm)"], "values": [-40, -20, 0, 20, 40, 60], "labelFontSize": 3.8, "titleFontSize": 5, "tickSize": 1.5, "labelPadding": 1, "titlePadding": 2, "minExtent": 9, "maxExtent": 9, "labelOverlap": false}}},
      "layer": [
      {"data": {"name": "lp"}, "transform": [{"filter": "datum.p=='S2'"}], "mark": {"type": "line", "color": "#ff1414", "strokeWidth": 1.1},
       "encoding": {"detail": {"field": "k", "type": "nominal"}, "order": {"field": "i", "type": "quantitative"}}},
      {"data": {"name": "nc"}, "transform": [{"filter": "datum.p=='S2'"}], "mark": {"type": "rule", "color": "#3535d0", "strokeWidth": 0.8, "strokeDash": [2, 1]},
       "encoding": {"x2": {"field": "a2"}, "y2": {"field": "t2"}}},
      {"data": {"name": "nc"}, "transform": [{"filter": "datum.p=='S2'"}], "mark": {"type": "point", "filled": true, "color": "#1c1ca8", "size": 5, "opacity": 1}},
      {"data": {"name": "ncl"}, "transform": [{"filter": "datum.p=='S2'"}], "mark": {"type": "text", "color": "#4a4ad6", "fontSize": 5.5, "lineBreak": " ", "baseline": "bottom"},
       "encoding": {"text": {"field": "s"}}}
     ]},
     {"width": 56, "height": 29, "data": {"name": "sh"}, "transform": [{"filter": "datum.p=='S2' && datum.v=='t'"}], "mark": {"type": "bar", "orient": "vertical", "size": 2.5, "color": "#2390c8", "stroke": "#16597f", "strokeWidth": 0.25},
      "encoding": {"x": {"field": "x", "type": "quantitative", "scale": {"domain": [-51, 52]}, "axis": {"title": "Torque (Nm)", "values": [-50, 0, 50], "labelFontSize": 4.5, "titleFontSize": 5, "tickSize": 1.5, "labelPadding": 1, "titlePadding": 2, "labelOverlap": false}}, "y": {"field": "c", "type": "quantitative", "scale": {"domain": [0, 100]}, "axis": null}}}
    ]}]}
 ], "spacing": 6}
 ]},
 {"title": {"text": "H", "anchor": "start", "fontSize": 9, "fontWeight": "bold", "color": "black", "offset": -9},
  "hconcat": [
   {"width": 28, "height": 46, "title": {"text": "Angle", "fontSize": 5, "fontWeight": "bold", "color": "black", "offset": 3}, "view": {"stroke": null},
    "data": {"name": "hd"}, "transform": [{"filter": "datum.p=='Angle'"}],
    "encoding": {"x": {"field": "g", "type": "quantitative", "scale": {"domain": [-0.45, 2.35]}, "axis": {"title": null, "values": [0, 1, 2], "labelExpr": "['Expert (ES)','SAS-Pre','SAS-Post'][datum.value]", "labelAngle": -45, "labelFontSize": 3.6, "labelFontWeight": "bold", "labelColor": "black", "domain": true, "domainColor": "black", "domainWidth": 0.5, "tickColor": "black", "tickSize": 1.5, "labelPadding": 1, "labelOverlap": false}},
     "y": {"field": "y", "type": "quantitative", "scale": {"domain": [90, 120]}, "axis": {"title": "Degree", "values": [90, 100, 110, 120], "titleFontSize": 4, "titleFontWeight": "bold", "titleColor": "black", "labelFontSize": 3.5, "labelFontWeight": "bold", "labelColor": "black", "domain": true, "domainColor": "black", "domainWidth": 0.5, "tickColor": "black", "tickSize": 1.5, "labelPadding": 1, "titlePadding": 2, "labelOverlap": false}}},
    "layer": [
     {"transform": [{"filter": "datum.k=='e'"}], "mark": {"type": "rule", "color": "#aaaaaa", "strokeWidth": 0.5}, "encoding": {"x2": {"field": "g2"}, "y2": {"field": "y2"}}},
     {"transform": [{"filter": "datum.k=='m'"}], "mark": {"type": "line", "color": "black", "strokeWidth": 0.7, "point": {"filled": true, "size": 3, "color": "black"}}},
     {"transform": [{"filter": "datum.k=='b'"}], "mark": {"type": "rule", "color": "#3b3bd1", "strokeWidth": 0.5}, "encoding": {"x2": {"field": "g2"}, "y2": {"field": "y2"}}},
     {"transform": [{"filter": "datum.k=='s'"}], "mark": {"type": "text", "color": "#3b3bd1", "fontSize": 4, "fontWeight": "bold", "text": "**"}}
    ]},
   {"width": 28, "height": 46, "title": {"text": "Torque", "fontSize": 5, "fontWeight": "bold", "color": "black", "offset": 3}, "view": {"stroke": null},
    "data": {"name": "hd"}, "transform": [{"filter": "datum.p=='Torque'"}],
    "encoding": {"x": {"field": "g", "type": "quantitative", "scale": {"domain": [-0.45, 2.35]}, "axis": {"title": null, "values": [0, 1, 2], "labelExpr": "['Expert (ES)','SAS-Pre','SAS-Post'][datum.value]", "labelAngle": -45, "labelFontSize": 3.6, "labelFontWeight": "bold", "labelColor": "black", "domain": true, "domainColor": "black", "domainWidth": 0.5, "tickColor": "black", "tickSize": 1.5, "labelPadding": 1, "labelOverlap": false}},
     "y": {"field": "y", "type": "quantitative", "scale": {"domain": [-40, 40]}, "axis": {"title": "Nm", "values": [-40, -20, 0, 20, 40], "titleFontSize": 4, "titleFontWeight": "bold", "titleColor": "black", "labelFontSize": 3.5, "labelFontWeight": "bold", "labelColor": "black", "domain": true, "domainColor": "black", "domainWidth": 0.5, "tickColor": "black", "tickSize": 1.5, "labelPadding": 1, "titlePadding": 2, "labelOverlap": false}}},
    "layer": [
     {"transform": [{"filter": "datum.k=='e'"}], "mark": {"type": "rule", "color": "#aaaaaa", "strokeWidth": 0.5}, "encoding": {"x2": {"field": "g2"}, "y2": {"field": "y2"}}},
     {"transform": [{"filter": "datum.k=='z'"}], "mark": {"type": "rule", "color": "black", "strokeWidth": 0.5}, "encoding": {"x2": {"field": "g2"}, "y2": {"field": "y2"}}},
     {"transform": [{"filter": "datum.k=='m'"}], "mark": {"type": "line", "color": "black", "strokeWidth": 0.7, "point": {"filled": true, "size": 3, "color": "black"}}},
     {"transform": [{"filter": "datum.k=='b'"}], "mark": {"type": "rule", "color": "#3b3bd1", "strokeWidth": 0.5}, "encoding": {"x2": {"field": "g2"}, "y2": {"field": "y2"}}},
     {"transform": [{"filter": "datum.k=='s'"}], "mark": {"type": "text", "color": "#3b3bd1", "fontSize": 4, "fontWeight": "bold", "text": "**"}}
    ]},
   {"width": 28, "height": 46, "title": {"text": "Angular velocity", "fontSize": 5, "fontWeight": "bold", "color": "black", "offset": 3}, "view": {"stroke": null},
    "data": {"name": "hd"}, "transform": [{"filter": "datum.p=='AV'"}],
    "encoding": {"x": {"field": "g", "type": "quantitative", "scale": {"domain": [-0.45, 2.35]}, "axis": {"title": null, "values": [0, 1, 2], "labelExpr": "['Expert (ES)','SAS-Pre','SAS-Post'][datum.value]", "labelAngle": -45, "labelFontSize": 3.6, "labelFontWeight": "bold", "labelColor": "black", "domain": true, "domainColor": "black", "domainWidth": 0.5, "tickColor": "black", "tickSize": 1.5, "labelPadding": 1, "labelOverlap": false}},
     "y": {"field": "y", "type": "quantitative", "scale": {"domain": [-1, 1]}, "axis": {"title": "Degree/sec", "values": [-1, -0.5, 0, 0.5, 1], "format": ".1f", "titleFontSize": 4, "titleFontWeight": "bold", "titleColor": "black", "labelFontSize": 3.5, "labelFontWeight": "bold", "labelColor": "black", "domain": true, "domainColor": "black", "domainWidth": 0.5, "tickColor": "black", "tickSize": 1.5, "labelPadding": 1, "titlePadding": 2, "labelOverlap": false}}},
    "layer": [
     {"transform": [{"filter": "datum.k=='e'"}], "mark": {"type": "rule", "color": "#aaaaaa", "strokeWidth": 0.5}, "encoding": {"x2": {"field": "g2"}, "y2": {"field": "y2"}}},
     {"transform": [{"filter": "datum.k=='z'"}], "mark": {"type": "rule", "color": "black", "strokeWidth": 0.5}, "encoding": {"x2": {"field": "g2"}, "y2": {"field": "y2"}}},
     {"transform": [{"filter": "datum.k=='m'"}], "mark": {"type": "line", "color": "black", "strokeWidth": 0.7, "point": {"filled": true, "size": 3, "color": "black"}}}
    ]},
   {"width": 28, "height": 46, "title": {"text": "Pressure", "fontSize": 5, "fontWeight": "bold", "color": "black", "offset": 3}, "view": {"stroke": null},
    "data": {"name": "hd"}, "transform": [{"filter": "datum.p=='Pressure'"}],
    "encoding": {"x": {"field": "g", "type": "quantitative", "scale": {"domain": [-0.45, 2.35]}, "axis": {"title": null, "values": [0, 1, 2], "labelExpr": "['Expert (ES)','SAS-Pre','SAS-Post'][datum.value]", "labelAngle": -45, "labelFontSize": 3.6, "labelFontWeight": "bold", "labelColor": "black", "domain": true, "domainColor": "black", "domainWidth": 0.5, "tickColor": "black", "tickSize": 1.5, "labelPadding": 1, "labelOverlap": false}},
     "y": {"field": "y", "type": "quantitative", "scale": {"domain": [-4000, 8000]}, "axis": {"title": "Modulus of pressure", "values": [-4000, -2000, 0, 2000, 4000, 6000, 8000], "format": "d", "titleFontSize": 4, "titleFontWeight": "bold", "titleColor": "black", "labelFontSize": 3.5, "labelFontWeight": "bold", "labelColor": "black", "domain": true, "domainColor": "black", "domainWidth": 0.5, "tickColor": "black", "tickSize": 1.5, "labelPadding": 1, "titlePadding": 2, "labelOverlap": false}}},
    "layer": [
     {"transform": [{"filter": "datum.k=='e'"}], "mark": {"type": "rule", "color": "#aaaaaa", "strokeWidth": 0.5}, "encoding": {"x2": {"field": "g2"}, "y2": {"field": "y2"}}},
     {"transform": [{"filter": "datum.k=='z'"}], "mark": {"type": "rule", "color": "black", "strokeWidth": 0.5}, "encoding": {"x2": {"field": "g2"}, "y2": {"field": "y2"}}},
     {"transform": [{"filter": "datum.k=='m'"}], "mark": {"type": "line", "color": "black", "strokeWidth": 0.7, "point": {"filled": true, "size": 3, "color": "black"}}},
     {"transform": [{"filter": "datum.k=='b'"}], "mark": {"type": "rule", "color": "#3b3bd1", "strokeWidth": 0.5}, "encoding": {"x2": {"field": "g2"}, "y2": {"field": "y2"}}},
     {"transform": [{"filter": "datum.k=='s'"}], "mark": {"type": "text", "color": "#3b3bd1", "fontSize": 4, "fontWeight": "bold", "text": "**"}}
    ]},
   {"width": 28, "height": 46, "title": {"text": "Pain Level", "fontSize": 5, "fontWeight": "bold", "color": "black", "offset": 3}, "view": {"stroke": null},
    "data": {"name": "hd"}, "transform": [{"filter": "datum.p=='Pain'"}],
    "encoding": {"x": {"field": "g", "type": "quantitative", "scale": {"domain": [-0.45, 2.35]}, "axis": {"title": null, "values": [0, 1, 2], "labelExpr": "['Expert (ES)','SAS-Pre','SAS-Post'][datum.value]", "labelAngle": -45, "labelFontSize": 3.6, "labelFontWeight": "bold", "labelColor": "black", "domain": true, "domainColor": "black", "domainWidth": 0.5, "tickColor": "black", "tickSize": 1.5, "labelPadding": 1, "labelOverlap": false}},
     "y": {"field": "y", "type": "quantitative", "scale": {"domain": [0, 10]}, "axis": {"title": "Pain Level (PL)", "values": [0, 2, 4, 6, 8, 10], "titleFontSize": 4, "titleFontWeight": "bold", "titleColor": "black", "labelFontSize": 3.5, "labelFontWeight": "bold", "labelColor": "black", "domain": true, "domainColor": "black", "domainWidth": 0.5, "tickColor": "black", "tickSize": 1.5, "labelPadding": 1, "titlePadding": 2, "labelOverlap": false}}},
    "layer": [
     {"transform": [{"filter": "datum.k=='e'"}], "mark": {"type": "rule", "color": "#aaaaaa", "strokeWidth": 0.5}, "encoding": {"x2": {"field": "g2"}, "y2": {"field": "y2"}}},
     {"transform": [{"filter": "datum.k=='m'"}], "mark": {"type": "line", "color": "black", "strokeWidth": 0.7, "point": {"filled": true, "size": 3, "color": "black"}}},
     {"transform": [{"filter": "datum.k=='b'"}], "mark": {"type": "rule", "color": "#3b3bd1", "strokeWidth": 0.5}, "encoding": {"x2": {"field": "g2"}, "y2": {"field": "y2"}}},
     {"transform": [{"filter": "datum.k=='s'"}], "mark": {"type": "text", "color": "#3b3bd1", "fontSize": 4, "fontWeight": "bold", "text": "**"}}
    ]}
  ], "spacing": 12}
]
}
